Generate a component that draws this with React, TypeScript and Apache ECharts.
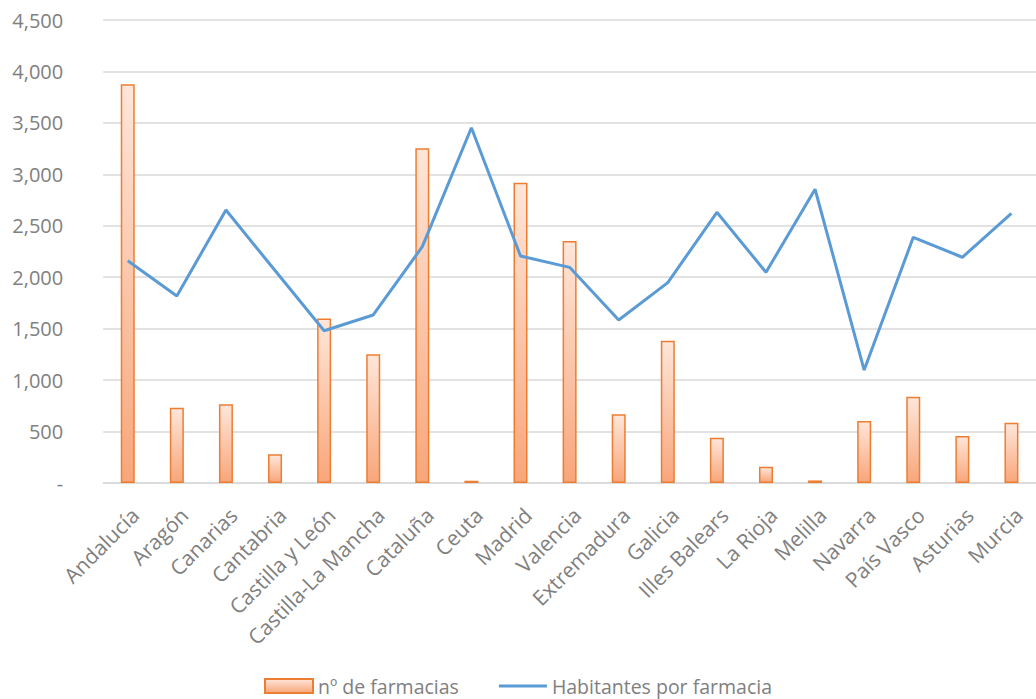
import React, { useEffect, useRef } from "react";
import * as echarts from "echarts";

const categories = [
  "Andalucía", "Aragón", "Canarias", "Cantabria", "Castilla y León", "Castilla-La Mancha",
  "Cataluña", "Ceuta", "Madrid", "Valencia", "Extremadura", "Galicia", "Illes Balears",
  "La Rioja", "Melilla", "Navarra", "País Vasco", "Asturias", "Murcia",
];
const farmacias = [3875, 732, 765, 279, 1600, 1251, 3253, 22, 2919, 2352, 667, 1383, 441, 159, 25, 603, 839, 457, 586];
const habitantes = [2161, 1818, 2653, 2065, 1480, 1633, 2297, 3453, 2206, 2096, 1584, 1947, 2631, 2048, 2855, 1098, 2388, 2194, 2621];
const seriesNames = ["nº de farmacias", "Habitantes por farmacia"];

const FONT = "'Open Sans', sans-serif";
const GRAY = "#808080";

export default function App() {
  const ref = useRef<HTMLDivElement>(null);
  useEffect(() => {
    if (!ref.current) return;
    const chart = echarts.init(ref.current, undefined, { renderer: "svg" });
    const barGradient = new echarts.graphic.LinearGradient(0, 0, 0, 1, [
      { offset: 0, color: "#fee6da" },
      { offset: 1, color: "#f8a67a" },
    ]);
    chart.setOption({
      animation: false,
      backgroundColor: "#ffffff",
      textStyle: { fontFamily: FONT },
      grid: { left: 103.2, right: -9.6, top: 20, bottom: 216, containLabel: false },
      legend: {
        bottom: 2,
        left: "center",
        padding: 0,
        itemWidth: 48,
        itemHeight: 14,
        itemGap: 40,
        textStyle: { color: GRAY, fontSize: 19.5, lineHeight: 22, fontFamily: FONT },
        data: [
          { name: seriesNames[0], icon: "rect" },
          { name: seriesNames[1], icon: "path://M0,0 L48,0 L48,3 L0,3 Z", itemStyle: { color: "#5b9bd5" } },
        ],
      },
      xAxis: {
        type: "category",
        data: categories,
        axisLine: { show: true, lineStyle: { color: "#d9d9d9", width: 1.5 } },
        axisTick: { show: false },
        axisLabel: {
          rotate: 45,
          color: GRAY,
          fontSize: 21,
          margin: 21,
          interval: 0,
          verticalAlign: "top",
          fontFamily: FONT,
        },
      },
      yAxis: {
        type: "value",
        min: 0,
        max: 4500,
        interval: 500,
        axisLine: { show: false },
        axisTick: { show: false },
        splitLine: { lineStyle: { color: "#d9d9d9", width: 1.5 } },
        axisLabel: {
          color: GRAY,
          fontSize: 20,
          margin: 40,
          fontFamily: FONT,
          formatter: (v: number) => (v === 0 ? "-" : v.toLocaleString("en-US")),
        },
      },
      series: [
        {
          name: seriesNames[0],
          type: "bar",
          data: farmacias,
          barWidth: 14,
          itemStyle: {
            color: barGradient,
            borderColor: "#ed7d31",
            borderWidth: 1.5,
          },
        },
        {
          name: seriesNames[1],
          type: "line",
          data: habitantes,
          symbol: "none",
          lineStyle: { color: "#5b9bd5", width: 3 },
          itemStyle: { color: "#5b9bd5" },
        },
      ],
    });
    return () => chart.dispose();
  }, []);
  return <div ref={ref} style={{ width: 1036, height: 699, position: "absolute", left: 0, top: 0 }} />;
}
